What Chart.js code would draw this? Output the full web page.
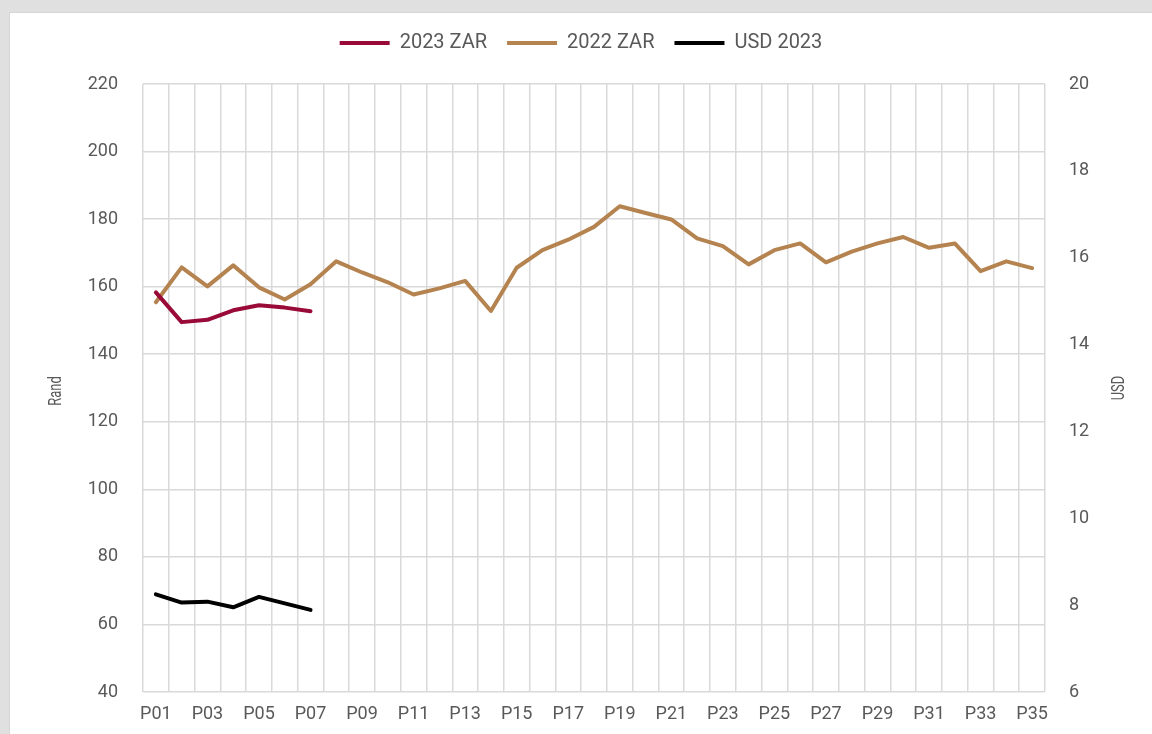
<!DOCTYPE html>
<html>
<head>
<meta charset="utf-8">
<script src="https://cdn.jsdelivr.net/npm/chart.js@4"></script>
<style>
  html, body { margin: 0; padding: 0; background: #e1e0e1; width: 1152px; height: 734px; overflow: hidden; }
  #panel { position: absolute; left: 9px; top: 12px; width: 1143px; height: 722px; background: #fff; border-left: 1px solid #d6d6d6; border-top: 1px solid #d6d6d6; box-sizing: border-box; }
  canvas { position: absolute; left: 0; top: 0; }
</style>
</head>
<body>
<div id="panel"><canvas id="chart" width="1142" height="721"></canvas></div>
<script>
const periods = ['P01','P02','P03','P04','P05','P06','P07','P08','P09','P10','P11','P12',
  'P13','P14','P15','P16','P17','P18','P19','P20','P21','P22','P23','P24',
  'P25','P26','P27','P28','P29','P30','P31','P32','P33','P34','P35']
const zar2023 = [158.3, 149.5, 150.2, 153.0, 154.5, 153.8, 152.7]
const zar2022 = [155.4, 165.7, 160.1, 166.3, 159.8, 156.2, 160.7, 167.5, 164.2, 161.3, 157.7, 159.5,
  161.7, 152.8, 165.6, 170.8, 173.9, 177.7, 183.8, 181.8, 179.9, 174.3, 172.0, 166.6,
  170.8, 172.8, 167.2, 170.4, 172.8, 174.7, 171.5, 172.8, 164.6, 167.5, 165.5]
const usd2023 = [8.25, 8.06, 8.08, 7.95, 8.19, 8.04, 7.89]

const GREY = '#595959'
const GRID = '#d9d9d9'
const FONT = 'Roboto'

// axis titles are drawn narrow and reading upwards on both sides
const axisTitles = {
  id: 'axisTitles',
  afterDraw(chart) {
    const { ctx } = chart
    const draw = (text, x, y) => {
      ctx.save()
      ctx.translate(x, y)
      ctx.rotate(-Math.PI / 2)
      ctx.scale(0.72, 1)
      ctx.font = '18px ' + FONT
      ctx.fillStyle = GREY
      ctx.textAlign = 'center'
      ctx.textBaseline = 'middle'
      ctx.fillText(text, 0, 0)
      ctx.restore()
    }
    draw('Rand', 46, 378)
    draw('USD', 1109, 375)
  }
}

// extra room under the legend
const legendGap = {
  id: 'legendGap',
  beforeUpdate(chart) {
    const lg = chart.legend
    if (lg && !lg._gap) {
      const fit = lg.fit
      lg.fit = function () { fit.call(this); this.height += 21 }
      lg._gap = true
    }
  }
}

const line = (label, data, color, axis) => ({
  label, data, yAxisID: axis,
  borderColor: color, backgroundColor: color,
  borderWidth: 4, borderCapStyle: 'round', borderJoinStyle: 'round',
  pointRadius: 0, pointHoverRadius: 0, tension: 0, spanGaps: false
})

const scales = {
  x: {
    type: 'category',
    offset: true,
    grid: { offset: true, color: GRID, lineWidth: 1.5, drawTicks: false },
    border: { display: false },
    ticks: {
      autoSkip: false, maxRotation: 0, padding: 12,
      color: GREY, font: { family: FONT, size: 18 },
      callback: (v, i) => i % 2 === 0 ? periods[i] : ''
    },
    afterFit: (s) => { s.height = 42 }
  },
  y: {
    position: 'left',
    min: 40, max: 220,
    grid: { color: GRID, lineWidth: 1.5, drawTicks: false },
    border: { display: false },
    ticks: { stepSize: 20, padding: 25, color: GREY, font: { family: FONT, size: 18 } },
    afterFit: (s) => { s.width = 133 }
  },
  y1: {
    position: 'right',
    min: 6, max: 20,
    grid: { display: false, drawTicks: false },
    border: { display: false },
    ticks: { stepSize: 2, padding: 24, color: GREY, font: { family: FONT, size: 18 } },
    afterFit: (s) => { s.width = 107 }
  }
}

new Chart(document.getElementById('chart'), {
  type: 'line',
  data: {
    labels: periods,
    datasets: [
      line('2023 ZAR', zar2023, '#9a0a38', 'y'),
      line('2022 ZAR', zar2022, '#b5834f', 'y'),
      line('USD 2023', usd2023, '#000000', 'y1')
    ]
  },
  options: {
    responsive: false,
    animation: false,
    layout: { padding: { top: 0, right: 0, bottom: 0, left: 0 } },
    scales,
    plugins: {
      tooltip: { enabled: false },
      legend: {
        position: 'top',
        labels: {
          usePointStyle: true, pointStyle: 'line', pointStyleWidth: 50,
          padding: 20, color: GREY, font: { family: FONT, size: 20 }
        }
      }
    }
  },
  plugins: [legendGap, axisTitles]
})
</script>
</body>
</html>
